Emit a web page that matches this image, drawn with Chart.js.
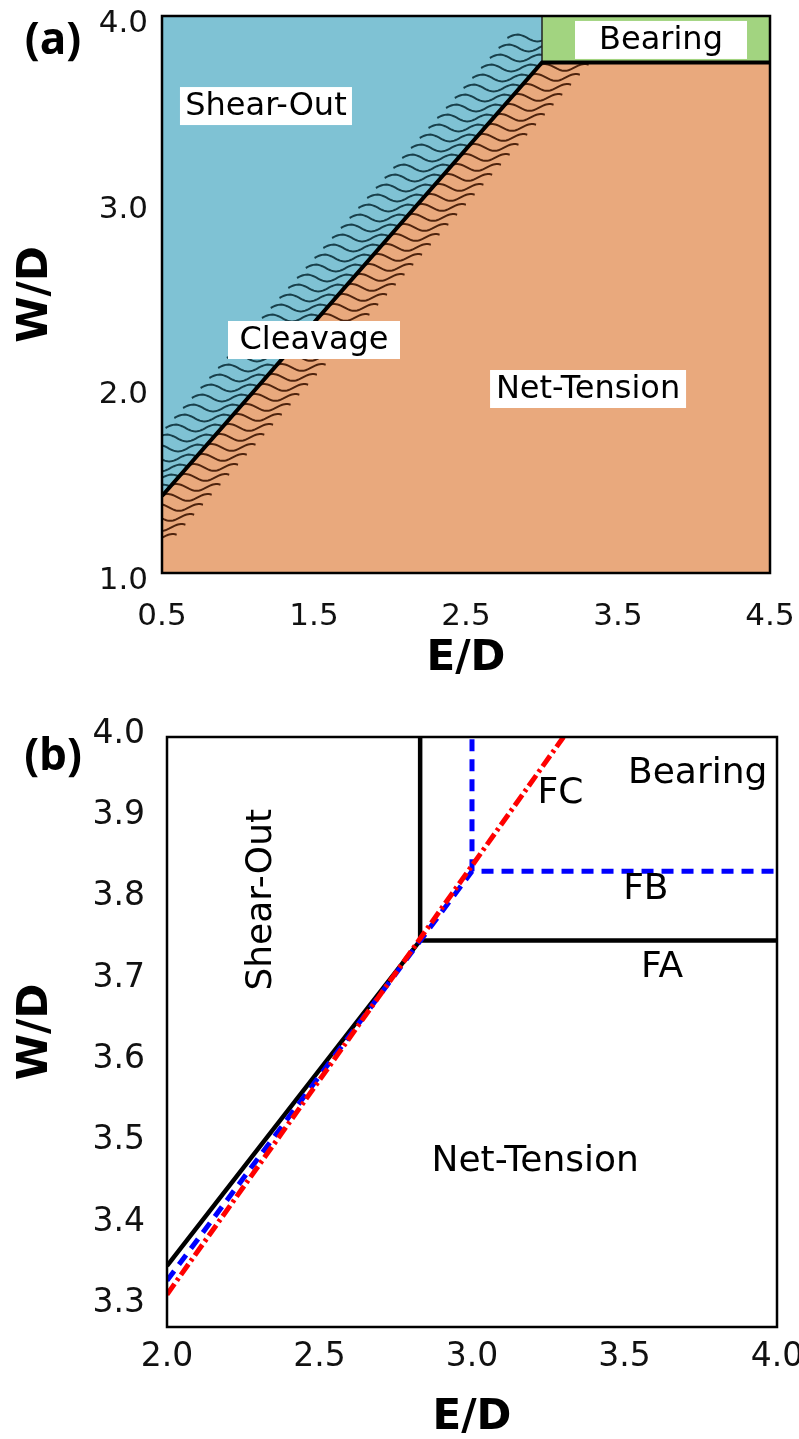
<!DOCTYPE html>
<html>
<head>
<meta charset="utf-8">
<script src="https://cdn.jsdelivr.net/npm/chart.js@4.4.0/dist/chart.umd.min.js"></script>
<style>
body { margin: 0; background: #fff; }
#wrapA { position: absolute; left: 0; top: 0; width: 799px; height: 680px; }
#wrapB { position: absolute; left: 0; top: 680px; width: 799px; height: 759px; }
</style>
</head>
<body>
<div id="wrapA"><canvas id="chartA" width="799" height="680"></canvas></div>
<div id="wrapB"><canvas id="chartB" width="799" height="759"></canvas></div>
<script>
// ---- panel (a) data ----
var aXTicks = [0.5, 1.5, 2.5, 3.5, 4.5];
var aYTicks = [1.0, 2.0, 3.0, 4.0];
var aBoundaryX = [0.5, 3.0, 4.5];
var aBoundaryY = [1.415, 3.75, 3.75];
var aBearingEdgeX = [3.0, 3.0];
var aBearingEdgeY = [3.75, 4.0];
var aLabels = ['Shear-Out', 'Cleavage', 'Net-Tension', 'Bearing'];
var aLabelX = [1.184, 1.5, 3.303, 3.783];
var aLabelY = [3.515, 2.255, 1.991, 3.871];

// ---- panel (b) data ----
var bXTicks = [2.0, 2.5, 3.0, 3.5, 4.0];
var bYTicks = [3.3, 3.4, 3.5, 3.6, 3.7, 3.8, 3.9, 4.0];
var bSolidX = [2.0, 2.83, 4.0];
var bSolidY = [3.35, 3.75, 3.75];
var bSolidUpX = [2.83, 2.83];
var bSolidUpY = [3.75, 4.0];
var bDashX = [2.0, 3.0, 4.0];
var bDashY = [3.332, 3.835, 3.835];
var bDashUpX = [3.0, 3.0];
var bDashUpY = [3.835, 4.0];
var bDotX = [2.0, 3.3];
var bDotY = [3.315, 4.0];
var bLabels = ['Shear-Out', 'FC', 'Bearing', 'FB', 'FA', 'Net-Tension'];
var bLabelX = [2.311, 3.29, 3.74, 3.57, 3.623, 3.207];
var bLabelY = [3.80, 3.931, 3.955, 3.812, 3.717, 3.478];

function pts(xs, ys) {
    return xs.map(function (x, i) { return { x: x, y: ys[i] }; });
}
function fmt(v) { return Number(v).toFixed(1); }

Chart.defaults.font.family = '"DejaVu Sans", Verdana, sans-serif';
Chart.defaults.color = '#111';

function drawWave(ctx, x0, x1, y) {
    ctx.beginPath();
    for (var x = x0; x <= x1; x += 1.5) {
        var yy = y - 3.4 * Math.sin((x - x0) / 40 * 2 * Math.PI);
        if (x === x0) ctx.moveTo(x, yy); else ctx.lineTo(x, yy);
    }
    ctx.stroke();
}

// wavy hatching along the cleavage boundary
var wavePlugin = {
    id: 'waves',
    beforeDatasetsDraw: function (chart) {
        var xs = chart.scales.x, ys = chart.scales.y, ctx = chart.ctx, area = chart.chartArea;
        var ax = xs.getPixelForValue(aBoundaryX[0]), ay = ys.getPixelForValue(aBoundaryY[0]);
        var bx = xs.getPixelForValue(aBoundaryX[1]), by = ys.getPixelForValue(aBoundaryY[1]);
        var ex = xs.getPixelForValue(aBoundaryX[2]);
        var slope = (bx - ax) / (by - ay);
        var y, lx;

        ctx.save();
        ctx.beginPath();
        ctx.moveTo(ax, ay); ctx.lineTo(bx, by); ctx.lineTo(bx, area.top); ctx.lineTo(area.left, area.top);
        ctx.closePath();
        ctx.clip();
        ctx.strokeStyle = '#183f4a';
        ctx.lineWidth = 2;
        for (y = area.top + 22; y < ay + 8; y += 10) {
            lx = ax + (y - ay) * slope;
            drawWave(ctx, lx - 56, lx + 4, y);
        }
        ctx.restore();

        ctx.save();
        ctx.beginPath();
        ctx.moveTo(area.left, area.bottom); ctx.lineTo(ax, ay); ctx.lineTo(bx, by);
        ctx.lineTo(ex, by); ctx.lineTo(ex, area.bottom);
        ctx.closePath();
        ctx.clip();
        ctx.strokeStyle = '#4f240e';
        ctx.lineWidth = 2;
        for (y = by + 5; y < ay + 45; y += 10) {
            lx = ax + (y - ay) * slope;
            drawWave(ctx, lx - 3, lx + 52, y);
        }
        ctx.restore();
    }
};

var aDecor = {
    id: 'aDecor',
    afterDatasetsDraw: function (chart) {
        var ctx = chart.ctx, a = chart.chartArea;
        var xs = chart.scales.x, ys = chart.scales.y;
        var boxW = [172, 172, 196, 172];
        ctx.save();
        ctx.font = '32px "DejaVu Sans"';
        ctx.textAlign = 'center';
        ctx.textBaseline = 'middle';
        aLabels.forEach(function (t, i) {
            var px = xs.getPixelForValue(aLabelX[i]);
            var py = ys.getPixelForValue(aLabelY[i]);
            ctx.fillStyle = '#fff';
            ctx.fillRect(px - boxW[i] / 2, py - 19, boxW[i], 38);
            ctx.fillStyle = '#000';
            ctx.fillText(t, px, py + 1);
        });
        ctx.strokeStyle = '#000';
        ctx.lineWidth = 2.5;
        ctx.strokeRect(a.left, a.top, a.right - a.left, a.bottom - a.top);
        ctx.font = 'bold 44px "Open Sans"';
        ctx.fillText('(a)', 53, 41);
        ctx.restore();
    }
};

var bDecor = {
    id: 'bDecor',
    afterDatasetsDraw: function (chart) {
        var ctx = chart.ctx, a = chart.chartArea;
        var xs = chart.scales.x, ys = chart.scales.y;
        ctx.save();
        ctx.strokeStyle = '#000';
        ctx.lineWidth = 2.5;
        ctx.strokeRect(a.left, a.top, a.right - a.left, a.bottom - a.top);
        ctx.fillStyle = '#000';
        ctx.font = '36px "DejaVu Sans"';
        ctx.textAlign = 'center';
        ctx.textBaseline = 'middle';
        bLabels.forEach(function (t, i) {
            var px = xs.getPixelForValue(bLabelX[i]);
            var py = ys.getPixelForValue(bLabelY[i]);
            ctx.save();
            ctx.translate(px, py);
            if (i === 0) ctx.rotate(-Math.PI / 2);
            ctx.fillText(t, 0, 0);
            ctx.restore();
        });
        ctx.font = 'bold 44px "Open Sans"';
        ctx.fillText('(b)', 53, 77);
        ctx.restore();
    }
};

var chartA = new Chart(document.getElementById('chartA').getContext('2d'), {
    type: 'scatter',
    data: {
        datasets: [{
            data: pts(aBoundaryX, aBoundaryY),
            showLine: true, borderColor: '#000', borderWidth: 4, pointRadius: 0, fill: false, order: 0
        }, {
            data: pts(aBearingEdgeX, aBearingEdgeY),
            showLine: true, borderColor: '#222', borderWidth: 1.5, pointRadius: 0, fill: false, order: 0
        }, {
            data: pts(aBoundaryX.slice(0, 2), aBoundaryY.slice(0, 2)),
            showLine: true, borderWidth: 0, borderColor: 'rgba(0,0,0,0)', pointRadius: 0,
            fill: 'end', backgroundColor: '#7fc2d4', order: 1
        }, {
            data: pts(aBoundaryX.slice(1), aBoundaryY.slice(1)),
            showLine: true, borderWidth: 0, borderColor: 'rgba(0,0,0,0)', pointRadius: 0,
            fill: 'end', backgroundColor: '#a2d480', order: 1
        }, {
            data: pts(aBoundaryX, aBoundaryY),
            showLine: true, borderWidth: 0, borderColor: 'rgba(0,0,0,0)', pointRadius: 0,
            fill: 'start', backgroundColor: '#e9a97d', order: 1
        }]
    },
    options: {
        responsive: false,
        animation: false,
        devicePixelRatio: 1,
        layout: { padding: { top: 16, right: 29, bottom: 0, left: 0 } },
        plugins: {
            legend: { display: false },
            tooltip: { enabled: false },
            filler: { drawTime: 'beforeDraw' }
        },
        scales: {
            x: {
                type: 'linear', min: 0.5, max: 4.5,
                grid: { display: false, drawTicks: false },
                border: { display: false },
                ticks: { font: { size: 31, lineHeight: 1 }, padding: 28, callback: fmt, color: '#111' },
                title: { display: true, text: 'E/D', color: '#000',
                         font: { size: 42, weight: 'bold', lineHeight: 1 }, padding: { top: 0, bottom: 0 } },
                afterBuildTicks: function (s) { s.ticks = aXTicks.map(function (v) { return { value: v }; }); },
                afterFit: function (s) { s.height = 107; s.paddingLeft = 0; s.paddingRight = 0; }
            },
            y: {
                type: 'linear', min: 1.0, max: 4.0,
                grid: { display: false, drawTicks: false },
                border: { display: false },
                ticks: { font: { size: 31, lineHeight: 1 }, padding: 14, labelOffset: 8, callback: fmt, color: '#111' },
                title: { display: true, text: 'W/D', color: '#000',
                         font: { size: 42, weight: 'bold', lineHeight: 1 }, padding: { top: 15, bottom: 0 } },
                afterBuildTicks: function (s) { s.ticks = aYTicks.map(function (v) { return { value: v }; }); },
                afterFit: function (s) { s.width = 162; s.paddingTop = 0; s.paddingBottom = 0; }
            }
        }
    },
    plugins: [wavePlugin, aDecor]
});

var chartB = new Chart(document.getElementById('chartB').getContext('2d'), {
    type: 'scatter',
    data: {
        datasets: [{
            data: pts(bDotX, bDotY),
            showLine: true, borderColor: '#ff0000', borderWidth: 5, borderDash: [13, 4, 3, 4],
            pointRadius: 0, fill: false, order: 0
        }, {
            data: pts(bDashX, bDashY),
            showLine: true, borderColor: '#0000ff', borderWidth: 5, borderDash: [12, 8],
            pointRadius: 0, fill: false, order: 1
        }, {
            data: pts(bDashUpX, bDashUpY),
            showLine: true, borderColor: '#0000ff', borderWidth: 5, borderDash: [12, 8],
            pointRadius: 0, fill: false, order: 1
        }, {
            data: pts(bSolidX, bSolidY),
            showLine: true, borderColor: '#000', borderWidth: 4.5, pointRadius: 0, fill: false, order: 2
        }, {
            data: pts(bSolidUpX, bSolidUpY),
            showLine: true, borderColor: '#000', borderWidth: 4.5, pointRadius: 0, fill: false, order: 2
        }]
    },
    options: {
        responsive: false,
        animation: false,
        devicePixelRatio: 1,
        layout: { padding: { top: 57, right: 22, bottom: 0, left: 0 } },
        plugins: {
            legend: { display: false },
            tooltip: { enabled: false }
        },
        scales: {
            x: {
                type: 'linear', min: 2.0, max: 4.0,
                grid: { display: false, drawTicks: false },
                border: { display: false },
                ticks: { font: { size: 33, lineHeight: 1 }, padding: 14, callback: fmt, color: '#111' },
                title: { display: true, text: 'E/D', color: '#000',
                         font: { size: 42, weight: 'bold', lineHeight: 1 }, padding: { top: 0, bottom: 0 } },
                afterBuildTicks: function (s) { s.ticks = bXTicks.map(function (v) { return { value: v }; }); },
                afterFit: function (s) { s.height = 112; s.paddingLeft = 0; s.paddingRight = 0; }
            },
            y: {
                type: 'linear', min: 3.275, max: 4.0,
                grid: { display: false, drawTicks: false },
                border: { display: false },
                ticks: { font: { size: 33, lineHeight: 1 }, padding: 22, labelOffset: -3, callback: fmt, color: '#111' },
                title: { display: true, text: 'W/D', color: '#000',
                         font: { size: 42, weight: 'bold', lineHeight: 1 }, padding: { top: 15, bottom: 0 } },
                afterBuildTicks: function (s) { s.ticks = bYTicks.map(function (v) { return { value: v }; }); },
                afterFit: function (s) { s.width = 167; s.paddingTop = 0; s.paddingBottom = 0; }
            }
        }
    },
    plugins: [bDecor]
});
</script>
</body>
</html>
